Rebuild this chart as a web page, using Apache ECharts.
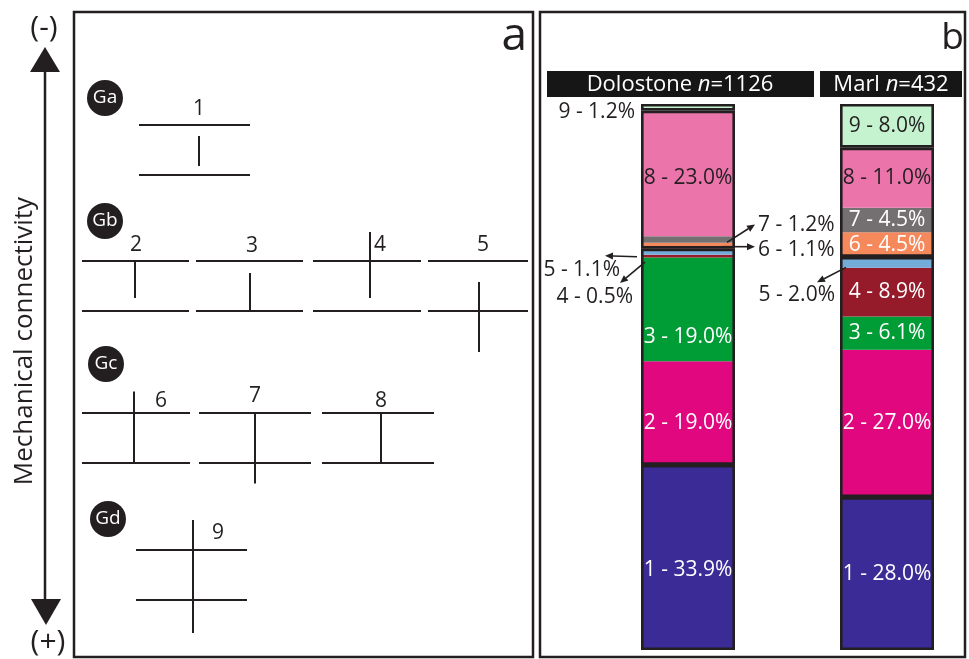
<!DOCTYPE html>
<html><head><meta charset="utf-8">
<script src="https://cdn.jsdelivr.net/npm/echarts@6/dist/echarts.min.js"></script>
<style>html,body{margin:0;padding:0;background:#fff}#c{width:969px;height:659px}</style>
</head><body><div id="c"></div>
<script>
// ---------------- DATA ----------------
const lithologies = ['Dolostone', 'Marl'];
const sampleSizes = [1126, 432];
const patternIds = [1, 2, 3, 4, 5, 6, 7, 8, 9];
const patternGroups = ['Ga', 'Gb', 'Gb', 'Gb', 'Gb', 'Gc', 'Gc', 'Gc', 'Gd'];
const groupNames = ['Ga', 'Gb', 'Gc', 'Gd'];
const dolostonePct = [33.9, 19.0, 19.0, 0.5, 1.1, 1.1, 1.2, 23.0, 1.2];
const marlPct = [28.0, 27.0, 6.1, 8.9, 2.0, 4.5, 4.5, 11.0, 8.0];
// fracture extent in bed-thickness units (0 = upper bed boundary, 1 = lower bed boundary)
const fractureTop = [0.22, 0, 0.24, -0.58, 0.42, -0.43, 0, 0, -0.6];
const fractureBottom = [0.82, 0.74, 1, 0.74, 1.82, 1, 1.41, 1, 1.66];
const axisTopLabel = '(-)';
const axisBottomLabel = '(+)';
const axisTitle = 'Mechanical connectivity';

// ---------------- STYLE / LAYOUT ----------------
const INK = '#231f20';
const FONT = '"Open Sans", "Noto Sans", sans-serif';
const patternColors = ['#3b2b96', '#e0077f', '#009c35', '#961b2a', '#74acd9', '#f5895c', '#747072', '#eb74ab', '#c5f3cf'];
const patternTextColors = ['#fff', '#fff', '#fff', '#fff', '#fff', '#fff', '#fff', INK, INK];
// vertical nudges of inside labels (px), per lithology
const labelNudge = [[13, 10, 28, 0, 0, 0, 0, 5, 0], [0, 0, 0, 0, 0, 0, 0, 0, 0]];
// schematic layout in panel a (pixel-like units of panel grid)
const schemLayout = [
  {x0: 139, x1: 250, fx: 199, top: 125, lx: 199, ly: 109},
  {x0: 82, x1: 189, fx: 135, top: 261, lx: 136, ly: 245},
  {x0: 196, x1: 303, fx: 250, top: 261, lx: 252, ly: 246},
  {x0: 313, x1: 421, fx: 370, top: 261, lx: 380, ly: 245},
  {x0: 428, x1: 528, fx: 479, top: 261, lx: 483, ly: 245},
  {x0: 82, x1: 190, fx: 134, top: 413, lx: 161, ly: 401},
  {x0: 199, x1: 311, fx: 255, top: 413, lx: 255, ly: 396},
  {x0: 322, x1: 434, fx: 381, top: 413, lx: 381, ly: 401},
  {x0: 136, x1: 247, fx: 193, top: 550, lx: 218, ly: 533}
];
const BED = 50;
const groupBadges = [[105, 98], [105, 221], [106, 364], [108, 519]];
const barGrids = [{left: 641, width: 94}, {left: 840, width: 94}];
// external callouts: lith index, pattern index, side, label offset from bar edge, arrow offsets
const callouts = [
  {lith: 0, k: 8, side: 'left', dx: -5, dy: 5},
  {lith: 0, k: 6, side: 'right', dx: 22, dy: -14, arrow: [[-9, 3], [19, -15]]},
  {lith: 0, k: 5, side: 'right', dx: 22, dy: 4, arrow: [[-14, 1], [19, 1]]},
  {lith: 0, k: 4, side: 'left', dx: -20, dy: 18, arrow: [[-3, 5], [-35, 4]]},
  {lith: 0, k: 3, side: 'left', dx: -7, dy: 41, arrow: [[5, 6], [-20, 27]]},
  {lith: 1, k: 4, side: 'left', dx: -4, dy: 33, arrow: [[7, 5], [-22, 20]]}
];

const fmt = (k, v) => patternIds[k] + ' - ' + v.toFixed(1) + '%';

// ---------------- BUILD ----------------
const chart = echarts.init(document.getElementById('c'), null, {renderer: 'canvas'});

const grids = [{left: 74, top: 12, width: 460, height: 645}];
const xAxes = [{type: 'value', gridIndex: 0, min: 74, max: 534, show: false, splitLine: {show: false}}];
const yAxes = [{type: 'value', gridIndex: 0, min: 12, max: 657, inverse: true, show: false, splitLine: {show: false}}];
barGrids.forEach((g, i) => {
  grids.push({left: g.left, width: g.width, top: 104, bottom: 9});
  xAxes.push({type: 'category', gridIndex: i + 1, data: [lithologies[i]], show: false});
  yAxes.push({type: 'value', gridIndex: i + 1, min: 0, max: 100, show: false, splitLine: {show: false}});
});

const series = [];
// panel a: schematic lines
const segs = [];
schemLayout.forEach((L, k) => {
  segs.push({coords: [[L.x0, L.top], [L.x1, L.top]]});
  segs.push({coords: [[L.x0, L.top + BED], [L.x1, L.top + BED]]});
  segs.push({coords: [[L.fx, L.top + fractureTop[k] * BED], [L.fx, L.top + fractureBottom[k] * BED]]});
});
series.push({
  type: 'lines', coordinateSystem: 'cartesian2d', xAxisIndex: 0, yAxisIndex: 0,
  polyline: false, silent: true, data: segs,
  lineStyle: {color: INK, width: 2, opacity: 1}
});
series.push({
  type: 'scatter', xAxisIndex: 0, yAxisIndex: 0, silent: true,
  symbolSize: 36, itemStyle: {color: INK, opacity: 1},
  data: groupNames.map((g, i) => ({name: g, value: groupBadges[i]})),
  label: {show: true, position: 'inside', formatter: p => p.name, color: '#fff', fontSize: 19, fontFamily: FONT}
});
series.push({
  type: 'scatter', xAxisIndex: 0, yAxisIndex: 0, silent: true,
  symbolSize: 0, itemStyle: {color: INK, opacity: 1},
  data: schemLayout.map((L, k) => ({name: String(patternIds[k]), value: [L.lx, L.ly]})),
  label: {show: true, position: 'inside', formatter: p => p.name, color: INK, opacity: 1,
    textBorderWidth: 0, fontSize: 21, fontFamily: FONT}
});

// panel b: stacked bars
[dolostonePct, marlPct].forEach((vals, i) => {
  vals.forEach((v, k) => {
    const ext = callouts.some(c => c.lith === i && c.k === k);
    series.push({
      type: 'bar', xAxisIndex: i + 1, yAxisIndex: i + 1, stack: 'p' + i,
      barWidth: '100%', barGap: '-100%', silent: true,
      data: [v],
      itemStyle: {color: patternColors[k]},
      label: {show: !ext, position: 'inside', offset: [0, labelNudge[i][k]], formatter: () => fmt(k, v),
        color: patternTextColors[k], fontSize: 21, fontFamily: FONT}
    });
  });
  groupNames.forEach((g) => {
    const sum = vals.reduce((s, v, k) => s + (patternGroups[k] === g ? v : 0), 0);
    series.push({
      type: 'bar', xAxisIndex: i + 1, yAxisIndex: i + 1, stack: 'g' + i,
      barWidth: '100%', barGap: '-100%', silent: true, z: 5,
      data: [sum],
      itemStyle: {color: 'rgba(0,0,0,0)', borderColor: INK, borderWidth: 2.6}
    });
  });
});

const graphic = [
  {type: 'rect', shape: {x: 74, y: 12, width: 459, height: 645}, style: {fill: 'none', stroke: INK, lineWidth: 2.5}, z: 10},
  {type: 'rect', shape: {x: 540, y: 12, width: 425, height: 645}, style: {fill: 'none', stroke: INK, lineWidth: 2.5}, z: 10},
  {type: 'text', x: 527, y: 60, style: {text: 'a', font: '46px ' + FONT, fill: INK, align: 'right', verticalAlign: 'bottom'}},
  {type: 'text', x: 964, y: 57, style: {text: 'b', font: '37px ' + FONT, fill: INK, align: 'right', verticalAlign: 'bottom'}},
  // connectivity axis
  {type: 'line', shape: {x1: 45, y1: 70, x2: 45, y2: 601}, style: {stroke: INK, lineWidth: 2.5}},
  {type: 'polygon', shape: {points: [[45, 47], [30, 72], [60, 72]]}, style: {fill: INK}},
  {type: 'polygon', shape: {points: [[46, 625], [31, 599], [61, 599]]}, style: {fill: INK}},
  {type: 'text', x: 44, y: 28, style: {text: axisTopLabel, font: '30px ' + FONT, fill: INK, align: 'center', verticalAlign: 'middle'}},
  {type: 'text', x: 48, y: 642, style: {text: axisBottomLabel, font: '30px ' + FONT, fill: INK, align: 'center', verticalAlign: 'middle'}},
  {type: 'text', x: 25, y: 341, rotation: Math.PI / 2, style: {text: axisTitle, font: '26px ' + FONT, fill: INK, align: 'center', verticalAlign: 'middle'}},
  // headers
  {type: 'rect', shape: {x: 547, y: 71, width: 267, height: 26}, style: {fill: '#161616'}},
  {type: 'rect', shape: {x: 820, y: 71, width: 142, height: 26}, style: {fill: '#161616'}},
  {type: 'text', x: 680, y: 85, style: {text: '{a|' + lithologies[0] + ' }{b|n}{a|=' + sampleSizes[0] + '}', align: 'center', verticalAlign: 'middle', fill: '#fff',
    rich: {a: {font: '22px ' + FONT, fill: '#fff'}, b: {font: 'italic 22px ' + FONT, fill: '#fff'}}}},
  {type: 'text', x: 891, y: 85, style: {text: '{a|' + lithologies[1] + ' }{b|n}{a|=' + sampleSizes[1] + '}', align: 'center', verticalAlign: 'middle', fill: '#fff',
    rich: {a: {font: '22px ' + FONT, fill: '#fff'}, b: {font: 'italic 22px ' + FONT, fill: '#fff'}}}}
];

chart.setOption({
  animation: false,
  backgroundColor: '#fff',
  grid: grids, xAxis: xAxes, yAxis: yAxes, series: series, graphic: graphic
});

// callouts computed from the bar scale
const extra = [];
callouts.forEach(c => {
  const vals = c.lith === 0 ? dolostonePct : marlPct;
  const lo = vals.slice(0, c.k).reduce((a, b) => a + b, 0);
  const mid = lo + vals[c.k] / 2;
  const p = chart.convertToPixel({gridIndex: c.lith + 1}, [0, mid]);
  const g = barGrids[c.lith];
  const edge = c.side === 'left' ? g.left - 1 : g.left + g.width + 1;
  extra.push({type: 'text', x: edge + c.dx, y: p[1] + c.dy, z: 20,
    style: {text: fmt(c.k, vals[c.k]), font: '21px ' + FONT, fill: INK,
      align: c.side === 'left' ? 'right' : 'left', verticalAlign: 'middle'}});
  if (c.arrow) {
    const x1 = edge + c.arrow[0][0], y1 = p[1] + c.arrow[0][1];
    const x2 = edge + c.arrow[1][0], y2 = p[1] + c.arrow[1][1];
    const ang = Math.atan2(y2 - y1, x2 - x1);
    const L = 8, W = 3.5;
    const bx = x2 - L * Math.cos(ang), by = y2 - L * Math.sin(ang);
    extra.push({type: 'line', z: 20, shape: {x1: x1, y1: y1, x2: bx, y2: by}, style: {stroke: INK, lineWidth: 1.6}});
    extra.push({type: 'polygon', z: 20, shape: {points: [[x2, y2],
      [bx + W * Math.sin(ang), by - W * Math.cos(ang)], [bx - W * Math.sin(ang), by + W * Math.cos(ang)]]}, style: {fill: INK}});
  }
});
chart.setOption({graphic: graphic.concat(extra)});
</script></body></html>
